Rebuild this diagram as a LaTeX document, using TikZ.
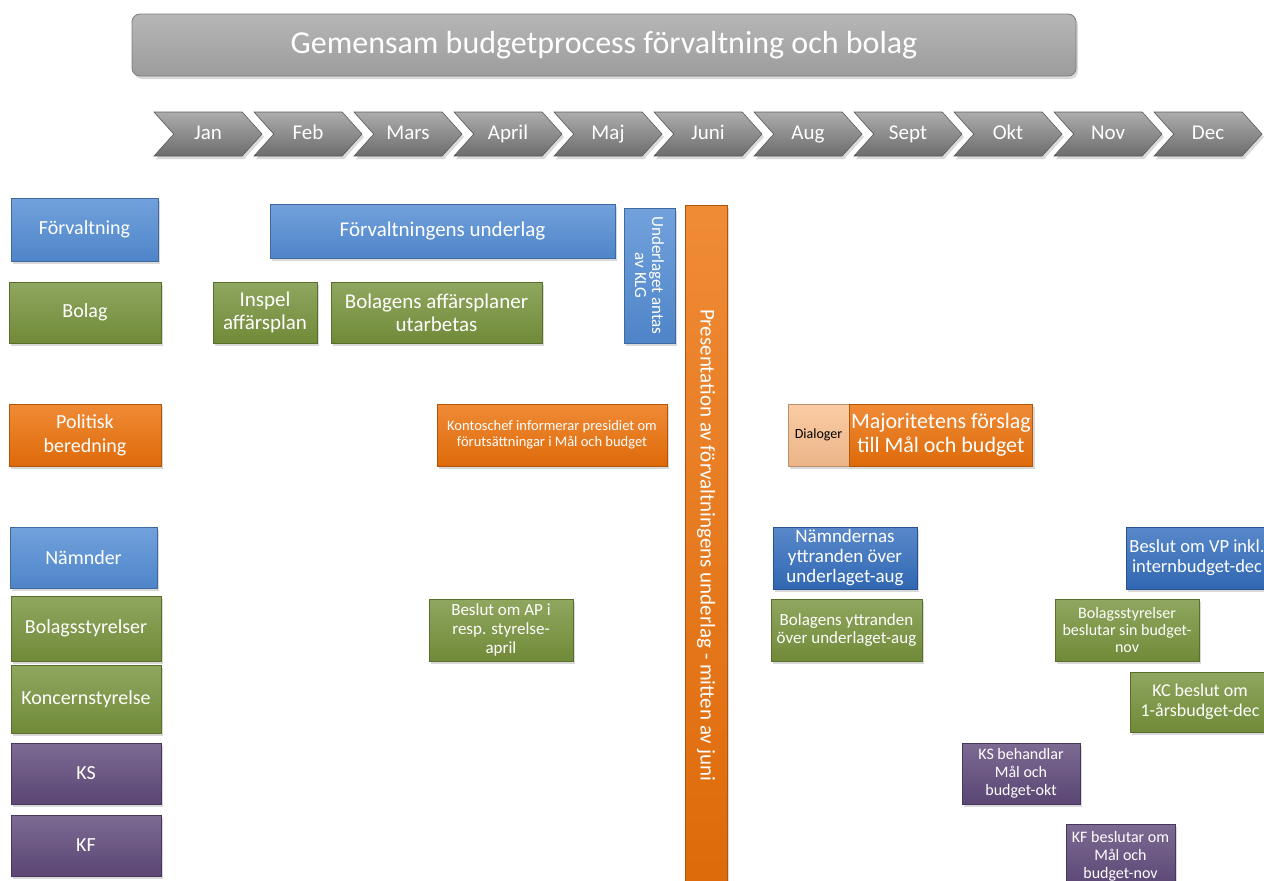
\documentclass[tikz,border=0pt]{standalone}
\usepackage{fontspec}
\setmainfont{Carlito}
\usepackage{xcolor}
\definecolor{fvblue}{RGB}{83,141,213}
\definecolor{nmblue}{RGB}{52,110,190}
\definecolor{bogreen}{RGB}{119,147,60}
\definecolor{porange}{RGB}{236,113,10}
\definecolor{kpurple}{RGB}{96,74,123}
\definecolor{dpeach}{RGB}{250,192,144}
\definecolor{mgray}{RGB}{128,128,128}
\definecolor{tgray}{RGB}{166,166,166}
\usepackage{tikz}
\usetikzlibrary{positioning}
\usetikzlibrary{shapes.symbols}
\usetikzlibrary{shadows}

\begin{document}
\begin{tikzpicture}[x=1pt,y=-1pt,
    every node/.style={inner sep=2,outer sep=0,align=center,text=white},
    tile/.style={rectangle,draw=#1!75!black,line width=0.8,top color=#1!82!white,bottom color=#1!94!black,
        drop shadow={opacity=0.3,shadow xshift=2pt,shadow yshift=-3pt}},
    lane/.style={tile=#1,anchor=north west,font=\fontsize{20}{24}\selectfont},
    task/.style={tile=#1,anchor=north west},
    month/.style={signal,signal to=east,signal from=west,signal pointer angle=96,
        minimum width=108,minimum height=44,inner sep=0,text height=14,text depth=4,
        draw=mgray!70!black,line width=0.6,
        top color=mgray!65!white,bottom color=mgray!85!black,font=\fontsize{21}{24}\selectfont,
        drop shadow={opacity=0.3,shadow xshift=2pt,shadow yshift=-3pt}}]
    \useasboundingbox (0,0) rectangle (1264,881);

    % rubrik och manader
    \node (title) [tile=tgray,rounded corners=8,minimum width=944,minimum height=62,
        font=\fontsize{32}{38}\selectfont] at (604,45) {Gemensam budgetprocess förvaltning och bolag};
    \foreach \m [count=\i from 0] in {Jan,Feb,Mars,April,Maj,Juni,Aug,Sept,Okt,Nov,Dec}
        \node (m\i) [month] at (208+100*\i,134) {\m};

    % aktorer
    \node (fv) [lane=fvblue,minimum width=147,minimum height=63] at (11,198) {Förvaltning};
    \node (bo) [lane=bogreen,minimum width=152,minimum height=61] at (9,282) {Bolag};
    \node (po) [lane=porange,minimum width=152,minimum height=62] at (9,404) {Politisk\\beredning};
    \node (nm) [lane=fvblue,minimum width=147,minimum height=61] at (10,527) {Nämnder};
    \node (bs) [lane=bogreen,minimum width=150,minimum height=65] at (11,596) {Bolagsstyrelser};
    \node (kst) [lane=bogreen,minimum width=150,minimum height=68] at (11,665) {Koncernstyrelse};
    \node (ks) [lane=kpurple,minimum width=150,minimum height=61] at (11,743) {KS};
    \node (kf) [lane=kpurple,minimum width=150,minimum height=61] at (11,815) {KF};

    % vår
    \node (fvu) [task=fvblue,minimum width=345,minimum height=54,font=\fontsize{21}{24}\selectfont]
        at (270,204) {Förvaltningens underlag};
    \node (insp) [task=bogreen,minimum width=104,minimum height=61,font=\fontsize{21}{23}\selectfont]
        at (213,282) {Inspel\\affärsplan};
    \node (bap) [task=bogreen,minimum width=211,minimum height=61,font=\fontsize{21}{23}\selectfont]
        at (331,282) {Bolagens affärsplaner\\utarbetas};
    \node (klg) [tile=fvblue,rotate=-90,minimum width=135,minimum height=51,font=\fontsize{17}{17}\selectfont]
        at (649.5,275.5) {Underlaget antas\\av KLG};
    \node (kont) [task=porange,minimum width=230,minimum height=62,font=\fontsize{14.5}{16}\selectfont]
        at (437,404) {Kontoschef informerar presidiet om\\förutsättningar i Mål och budget};
    \node (ap) [task=bogreen,inner sep=1,minimum width=144,minimum height=62,font=\fontsize{17}{19}\selectfont]
        at (429,599) {Beslut om AP i\\resp. styrelse-\\april};
    \node (pres) [tile=porange,rotate=-90,minimum width=680,minimum height=42,font=\fontsize{21}{24}\selectfont]
        at (706,545) {Presentation av förvaltningens underlag - mitten av juni};

    % höst
    \node (dial) [task=dpeach,text=black,minimum width=61,minimum height=62,font=\fontsize{14}{16}\selectfont]
        at (788,404) {Dialoger};
    \node (maj) [task=porange,minimum width=180,minimum height=62,font=\fontsize{22}{24}\selectfont,
        right=0pt of dial] {Majoritetens förslag\\till Mål och budget};
    \node (nmy) [task=nmblue,inner sep=1,minimum width=144,minimum height=62,font=\fontsize{19}{20}\selectfont]
        at (773,527) {Nämndernas\\yttranden över\\underlaget-aug};
    \node (boy) [task=bogreen,minimum width=151,minimum height=62,font=\fontsize{17}{18}\selectfont]
        at (771,599) {Bolagens yttranden\\över underlaget-aug};
    \node (vp) [task=nmblue,minimum width=142,minimum height=62,font=\fontsize{18.5}{20}\selectfont]
        at (1126,527) {Beslut om VP inkl.\\internbudget-dec};
    \node (bsb) [task=bogreen,inner sep=1,minimum width=144,minimum height=62,font=\fontsize{16}{17}\selectfont]
        at (1055,599) {Bolagsstyrelser\\beslutar sin budget-\\nov};
    \node (kc) [task=bogreen,minimum width=140,minimum height=60,font=\fontsize{18}{20}\selectfont]
        at (1130,672) {KC beslut om\\1-årsbudget-dec};
    \node (ksb) [task=kpurple,inner sep=1,minimum width=118,minimum height=61,font=\fontsize{16}{18}\selectfont]
        at (962,743) {KS behandlar\\Mål och\\budget-okt};
    \node (kfb) [task=kpurple,inner sep=1,minimum width=109,minimum height=64,font=\fontsize{16}{18}\selectfont]
        at (1066,824) {KF beslutar om\\Mål och\\budget-nov};
\end{tikzpicture}
\end{document}
